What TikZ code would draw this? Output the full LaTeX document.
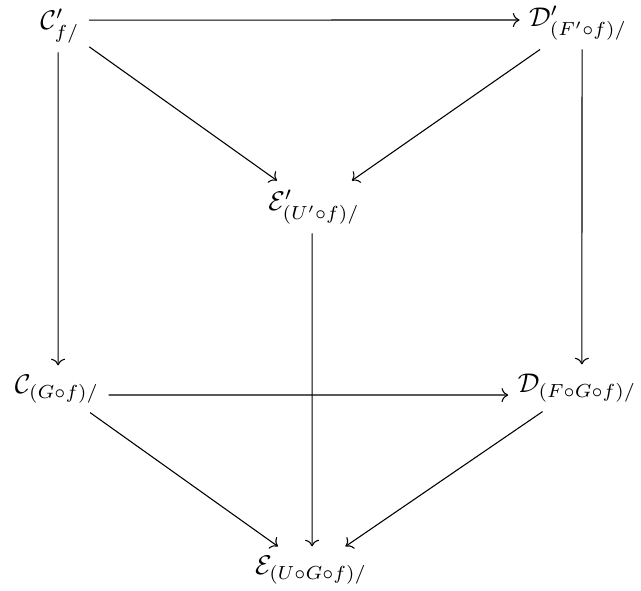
\documentclass[tikz,border=0pt]{standalone}
\usepackage{amsmath}
\usepackage{amssymb}
\usetikzlibrary{arrows.meta,calc}

\begin{document}
\begin{tikzpicture}[x=0.013cm,y=-0.013cm]
  \useasboundingbox (0,0) rectangle (641,590);
  % top face
  \node (Cp) at (60,26) {$\mathcal{C}'_{f/}$};
  \node (Dp) at (578,23) {$\mathcal{D}'_{(F'\circ f)/}$};
  \node (Ep) at (314,207) {$\mathcal{E}'_{(U'\circ f)/}$};
  % bottom face
  \node (C) at (57,389) {$\mathcal{C}_{(G\circ f)/}$};
  \node (D) at (577,388) {$\mathcal{D}_{(F\circ G\circ f)/}$};
  \node (E) at (311,570) {$\mathcal{E}_{(U\circ G\circ f)/}$};

  \draw[->] ([yshift=2.2pt]Cp.east) -- ([yshift=1.1pt]Dp.west);
  \draw[->] (Cp) -- (Ep);
  \draw[->] (Dp) -- (Ep);
  \draw[->] ([yshift=-2.2pt]C.east) -- ([yshift=-2.6pt]D.west);
  \draw[->] (C) -- (E);
  \draw[->] (D) -- (E);
  % verticals
  \draw[->] ([xshift=-0.7pt]Cp.south) -- ([xshift=0.4pt]C.north);
  \draw[->] ([xshift=1.5pt]Dp.south) -- ([xshift=1.8pt]D.north);
  \draw[->] ([xshift=-0.7pt]Ep.south) -- ([xshift=0.4pt]E.north);
\end{tikzpicture}
\end{document}
